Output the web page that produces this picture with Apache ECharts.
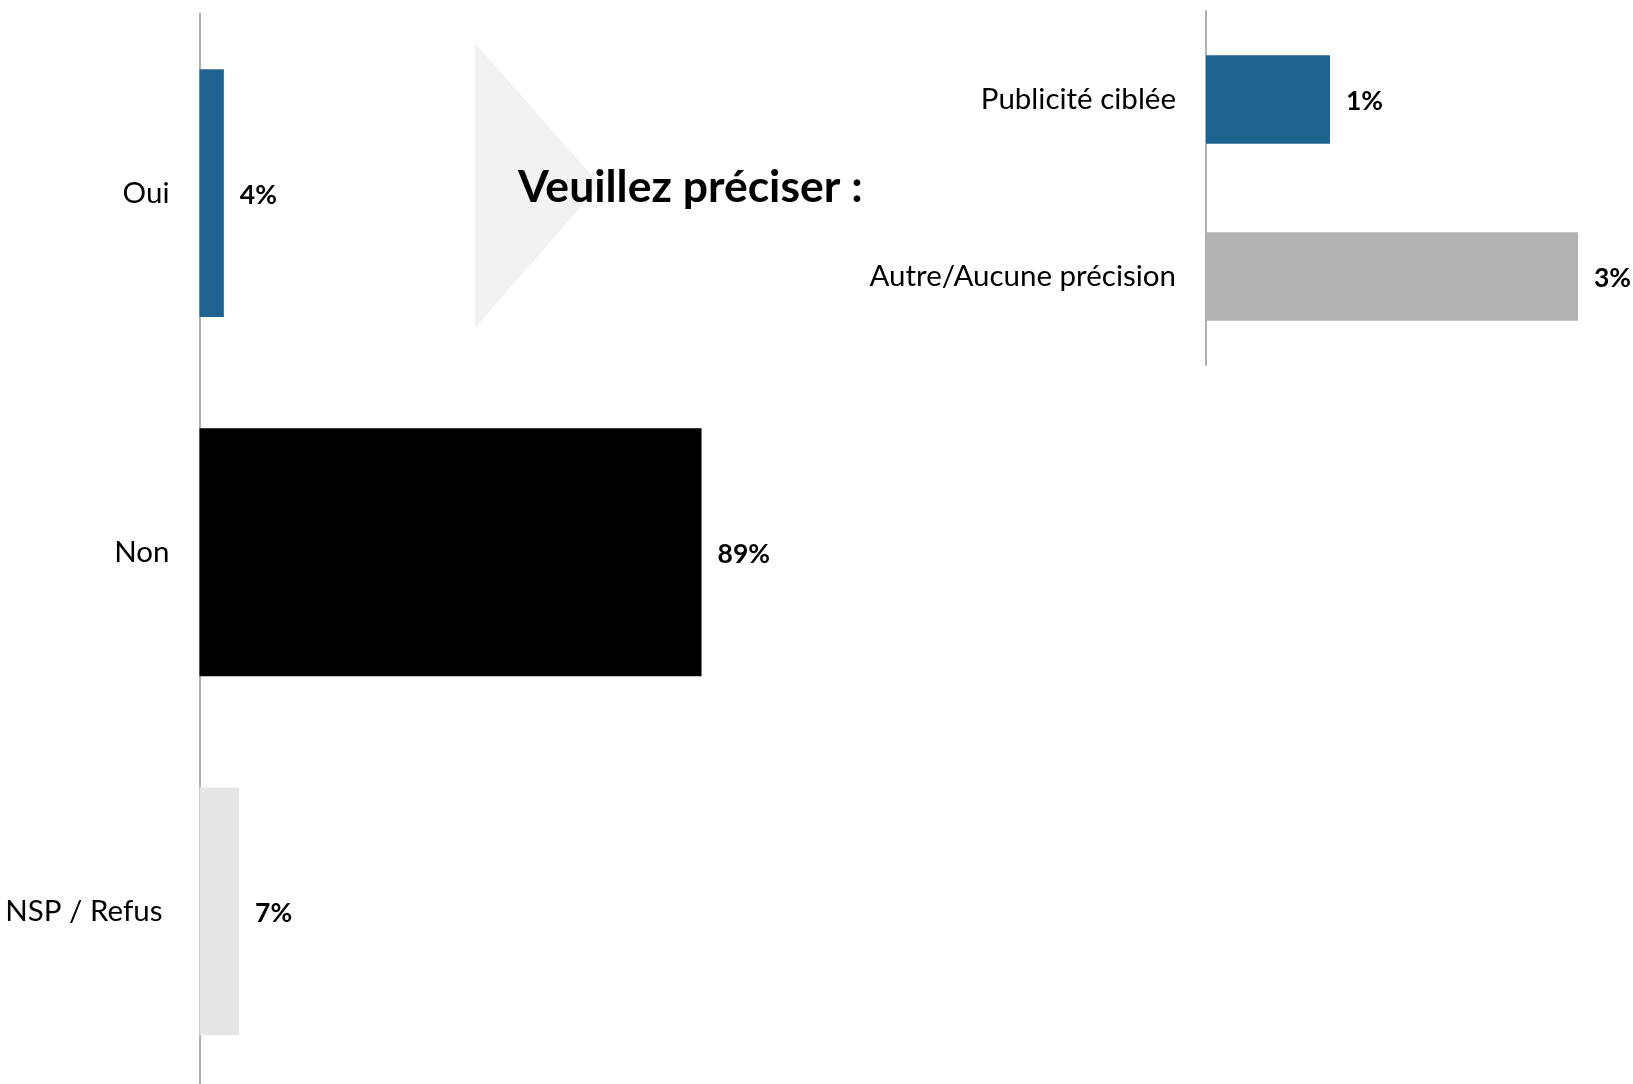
<!DOCTYPE html>
<html>
<head>
<meta charset="utf-8">
<script src="https://cdn.jsdelivr.net/npm/echarts@6/dist/echarts.min.js"></script>
<style>
html,body{margin:0;padding:0;background:#fff;overflow:hidden;}
#chart{width:1633px;height:1100px;}
</style>
</head>
<body>
<div id="chart"></div>
<script>
const mainCategories = ['Oui', 'Non', 'NSP / Refus'];
const mainValues = [4.3, 88.7, 7.0];
const mainColors = ['#1f6391', '#000000', '#e6e6e6'];

const subCategories = ['Publicité ciblée', 'Autre/Aucune précision'];
const subValues = [1, 3];
const subColors = ['#1f6391', '#b2b2b2'];

const subTitle = 'Veuillez préciser :';

const FONT = 'Lato';
const LABEL_SIZE = 29.5;
const pct = (p) => Math.round(p.value) + '%';
const chart = echarts.init(document.getElementById('chart'));

chart.setOption({
  animation: false,
  backgroundColor: '#ffffff',
  grid: [
    {left: 199.5, top: 13.5, width: 566, height: 1077.5},
    {left: 1206, top: 11, width: 372, height: 354}
  ],
  xAxis: [
    {gridIndex: 0, type: 'value', min: 0, max: 100, show: false},
    {gridIndex: 1, type: 'value', min: 0, max: 3, show: false}
  ],
  yAxis: [
    {
      gridIndex: 0, type: 'category', inverse: true, data: mainCategories,
      axisLine: {show: true, lineStyle: {color: '#b0b0b0', width: 2}},
      axisTick: {show: false},
      axisLabel: {
        margin: 30, color: '#000', fontFamily: FONT, fontSize: LABEL_SIZE,
        formatter: (v) => v === 'NSP / Refus' ? '{p|' + v + '}' : v,
        rich: {p: {padding: [0, 7, 0, 0], color: '#000', fontFamily: FONT, fontSize: LABEL_SIZE}}
      }
    },
    {
      gridIndex: 1, type: 'category', inverse: true, data: subCategories,
      axisLine: {show: true, lineStyle: {color: '#b0b0b0', width: 2}},
      axisTick: {show: false},
      axisLabel: {margin: 30, color: '#000', fontFamily: FONT, fontSize: LABEL_SIZE}
    }
  ],
  graphic: [
    {
      type: 'polygon', z: 0,
      shape: {points: [[475, 43], [600, 185], [475, 328]]},
      style: {fill: '#f2f2f2'}
    },
    {
      type: 'text', z: 10,
      style: {x: 518, y: 188, text: subTitle, fill: '#000', font: 'bold 44.5px ' + FONT,
        verticalAlign: 'middle', textVerticalAlign: 'middle'}
    }
  ],
  series: [
    {
      type: 'bar', xAxisIndex: 0, yAxisIndex: 0, barCategoryGap: '31%',
      data: mainValues.map((v, i) => ({value: v, itemStyle: {color: mainColors[i]}})),
      label: {show: true, position: 'right', distance: 16, offset: [0, 2], formatter: pct,
        color: '#000', fontFamily: FONT, fontWeight: 'bold', fontSize: 26.5}
    },
    {
      type: 'bar', xAxisIndex: 1, yAxisIndex: 1, barCategoryGap: '50%',
      data: subValues.map((v, i) => ({value: v, itemStyle: {color: subColors[i]}})),
      label: {show: true, position: 'right', distance: 16, offset: [0, 2], formatter: pct,
        color: '#000', fontFamily: FONT, fontWeight: 'bold', fontSize: 26.5}
    }
  ]
});
</script>
</body>
</html>
